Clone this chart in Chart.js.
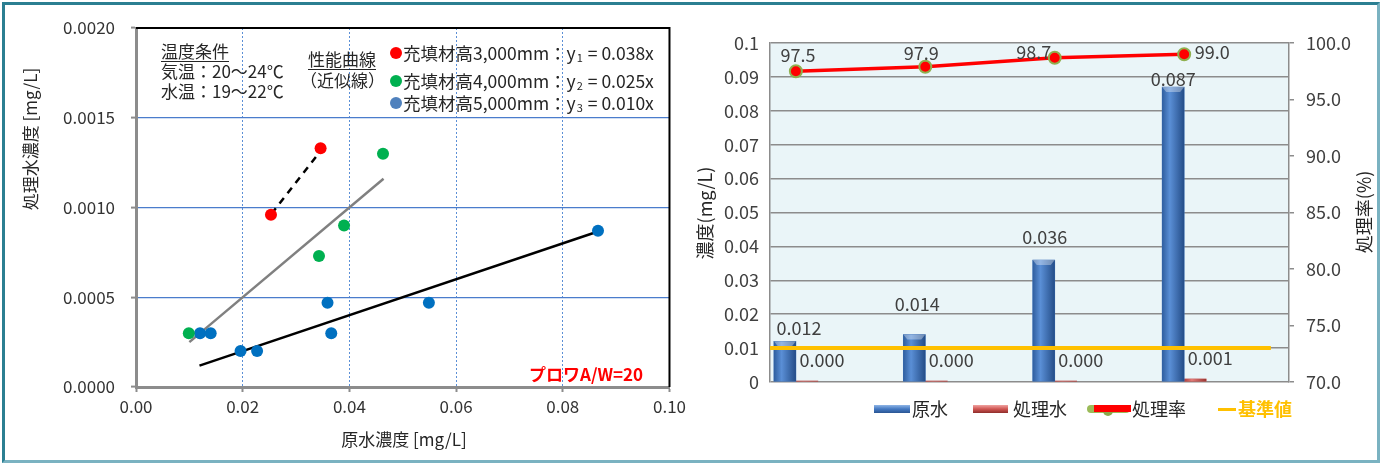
<!DOCTYPE html>
<html>
<head>
<meta charset="utf-8">
<script src="https://cdn.jsdelivr.net/npm/chart.js@4.4.0/dist/chart.umd.min.js"></script>
<style>
  html, body { margin: 0; padding: 0; background: #fff; width: 1380px; height: 463px; overflow: hidden; }
  .box { position: absolute; top: 0; height: 463px; width: 690px; }
  #left { left: 0; }
  #right { left: 690px; }
  #frame {
    position: absolute; left: 2px; top: 2px; width: 1372px; height: 455px;
    border-style: solid; border-width: 3px;
    border-color: #2b7f92 #7ab2c1 #7ab2c1 #2b7f92;
    pointer-events: none;
  }
</style>
</head>
<body>
<div id="left" class="box"><canvas id="c1"></canvas></div>
<div id="right" class="box"><canvas id="c2"></canvas></div>
<div id="frame"></div>
<script>
// ---- left chart: raw vs treated concentration ----
const seriesNames = ['充填材高3,000mm', '充填材高4,000mm', '充填材高5,000mm'];
const rawX3000 = [0.0253, 0.0346];
const treatedY3000 = [0.00096, 0.00133];
const rawX4000 = [0.0099, 0.0343, 0.0390, 0.0463];
const treatedY4000 = [0.00030, 0.00073, 0.00090, 0.00130];
const rawX5000 = [0.0120, 0.0140, 0.0196, 0.0227, 0.0359, 0.0366, 0.0549, 0.0866];
const treatedY5000 = [0.00030, 0.00030, 0.00020, 0.00020, 0.00047, 0.00030, 0.00047, 0.00087];
const fitSlopes = [0.038, 0.025, 0.010];
const fitRanges = [[0.0254, 0.0347], [0.0100, 0.0464], [0.0119, 0.0866]];
const xTicks = [0, 0.02, 0.04, 0.06, 0.08, 0.10];
const yTicks = [0, 0.0005, 0.0010, 0.0015, 0.0020];

// ---- right chart: concentration bars + removal rate ----
const sampleIndex = [0, 1, 2, 3];
const rawWater = [0.012, 0.014, 0.036, 0.087];
const treatedWater = [0.0003, 0.0003, 0.0003, 0.0009];
const removalRate = [97.5, 97.9, 98.7, 99.0];
const standardValue = 0.01;
const standardSpan = [-0.2, 3.67];
const concTicks = [0, 0.01, 0.02, 0.03, 0.04, 0.05, 0.06, 0.07, 0.08, 0.09, 0.1];
const rateTicks = [70, 75, 80, 85, 90, 95, 100];

const FONT = "'Noto Sans CJK JP', 'Noto Sans', sans-serif";
Chart.defaults.font.family = FONT;
Chart.defaults.color = '#404040';
Chart.defaults.animation = false;

const pts = (xs, ys) => xs.map((x, i) => ({ x, y: ys[i] }));
const fitLine = (k, range) => range.map(x => ({ x, y: k * x }));
const clear = 'rgba(0,0,0,0)';

// text with subscript, e.g. y1
function drawSub(ctx, x, y, main, sub, rest, size) {
  ctx.font = size + 'px ' + FONT;
  ctx.fillText(main, x, y);
  x += ctx.measureText(main).width;
  ctx.font = Math.round(size * 0.62) + 'px ' + FONT;
  ctx.fillText(sub, x + 1, y + 5);
  x += ctx.measureText(sub).width + 2;
  ctx.font = size + 'px ' + FONT;
  ctx.fillText(rest, x, y);
}

const leftDecor = {
  id: 'leftDecor',
  afterDraw(chart) {
    const { ctx, chartArea: a } = chart;
    ctx.save();
    // black top / right frame
    ctx.strokeStyle = '#000';
    ctx.lineWidth = 2;
    ctx.beginPath();
    ctx.moveTo(a.left, a.top);
    ctx.lineTo(a.right, a.top);
    ctx.lineTo(a.right, a.bottom);
    ctx.stroke();

    ctx.fillStyle = '#262626';
    ctx.textBaseline = 'middle';
    ctx.textAlign = 'left';
    ctx.font = '17px ' + FONT;
    const underline = (t, x, y) => {
      ctx.fillText(t, x, y);
      const w = ctx.measureText(t).width;
      ctx.fillRect(x, y + 9, w, 1);
    };
    underline('温度条件', 161, 52);
    ctx.fillText('気温：20～24℃', 161, 72);
    ctx.fillText('水温：19～22℃', 161, 92);
    underline('性能曲線', 308, 60);
    ctx.fillText('（近似線）', 300, 81);

    const dotColors = ['#FF0000', '#00B050', '#4F81BD'];
    const rowY = [53, 81, 103];
    seriesNames.forEach((name, i) => {
      ctx.fillStyle = dotColors[i];
      ctx.beginPath();
      ctx.arc(396, rowY[i], 6, 0, Math.PI * 2);
      ctx.fill();
      ctx.fillStyle = '#262626';
      drawSub(ctx, 403, rowY[i], name + '：y', String(i + 1), ' = ' + fitSlopes[i].toFixed(3) + 'x', 17.5);
    });

    ctx.fillStyle = '#FF0000';
    ctx.font = 'bold 17px ' + FONT;
    ctx.fillText('プロワA/W=20', 529, 375);

    // axis titles
    ctx.fillStyle = '#262626';
    ctx.font = '17px ' + FONT;
    ctx.textAlign = 'center';
    ctx.fillText('原水濃度 [mg/L]', 404, 440);
    ctx.translate(31, 139);
    ctx.rotate(-Math.PI / 2);
    ctx.fillText('処理水濃度 [mg/L]', 0, 0);
    ctx.restore();
  }
};

const pointSet = (label, data, color) => ({
  label, data, showLine: false, order: 0,
  pointRadius: 6, pointHoverRadius: 6, pointBorderWidth: 0,
  pointBackgroundColor: color, backgroundColor: color
});
const lineSet = (data, color, dash) => ({
  data, showLine: true, order: 1, pointRadius: 0,
  borderColor: color, borderWidth: 2.5, borderDash: dash
});

new Chart(document.getElementById('c1'), {
  type: 'scatter',
  data: {
    datasets: [
      pointSet(seriesNames[0], pts(rawX3000, treatedY3000), '#FF0000'),
      pointSet(seriesNames[1], pts(rawX4000, treatedY4000), '#00B050'),
      pointSet(seriesNames[2], pts(rawX5000, treatedY5000), '#0070C0'),
      lineSet(fitLine(fitSlopes[0], fitRanges[0]), '#000000', [7, 6]),
      lineSet(fitLine(fitSlopes[1], fitRanges[1]), '#808080', []),
      lineSet(fitLine(fitSlopes[2], fitRanges[2]), '#000000', [])
    ]
  },
  options: {
    responsive: true,
    maintainAspectRatio: false,
    layout: { padding: { top: 28, right: 16, left: 0, bottom: 0 } },
    plugins: { legend: { display: false }, tooltip: { enabled: false } },
    scales: {
      x: {
        type: 'linear', min: 0, max: 0.1,
        afterBuildTicks: s => { s.ticks = xTicks.map(v => ({ value: v })); },
        afterFit: s => { s.height = 76; },
        ticks: { callback: v => v.toFixed(2), font: { size: 17 }, color: '#333', padding: 4, maxRotation: 0 },
        grid: {
          color: c => (c.tick && (c.tick.value === 0 || c.tick.value >= 0.1)) ? clear : '#5b8fd6',
          lineWidth: 1, tickColor: '#8c8c8c', tickLength: 5, tickWidth: 2
        },
        border: { color: '#8c8c8c', width: 3, dash: [2, 2] }
      },
      y: {
        type: 'linear', min: 0, max: 0.002,
        afterBuildTicks: s => { s.ticks = yTicks.map(v => ({ value: v })); },
        afterFit: s => { s.width = 136; },
        ticks: { callback: v => v.toFixed(4), font: { size: 17 }, color: '#333', padding: 16 },
        grid: {
          color: c => (c.tick && (c.tick.value === 0 || c.tick.value >= 0.002)) ? clear : '#4a7ccc',
          lineWidth: 1.2, tickColor: '#8c8c8c', tickLength: 5, tickWidth: 2
        },
        border: { color: '#8c8c8c', width: 3 }
      }
    }
  },
  plugins: [leftDecor]
});

// ---- right chart ----
const BAR_W = 22;
const rawLabelOffset = [[14, -13], [3, -30], [1, -23], [0, -8]];
const rateLabelOffset = [[2, -16], [-4, -14], [-21, -6], [28, -2]];
const barShade = [
  ['#2f5e9f', '#5a8fd6', '#244d88'],
  ['#b0403d', '#e27a77', '#9a3532']
];

const rightDecor = {
  id: 'rightDecor',
  beforeDraw(chart) {
    const { ctx, chartArea: a } = chart;
    ctx.save();
    ctx.fillStyle = '#eaf5f8';
    ctx.fillRect(a.left, a.top, a.right - a.left, a.bottom - a.top);
    ctx.restore();
  },
  // give the library's bars a rounded, shaded look
  afterDatasetDraw(chart, args) {
    if (args.index > 1) return;
    const ctx = chart.ctx;
    const stops = barShade[args.index];
    ctx.save();
    args.meta.data.forEach(el => {
      const { x, y, base, width } = el.getProps(['x', 'y', 'base', 'width'], true);
      const l = x - width / 2;
      const g = ctx.createLinearGradient(l, 0, l + width, 0);
      g.addColorStop(0, stops[0]);
      g.addColorStop(0.35, stops[1]);
      g.addColorStop(1, stops[2]);
      ctx.fillStyle = g;
      ctx.fillRect(l, y, width, base - y);
      if (base - y > 8) {
        ctx.fillStyle = 'rgba(255,255,255,0.35)';
        ctx.beginPath();
        ctx.moveTo(l, y); ctx.lineTo(l + width, y);
        ctx.lineTo(l + width - 4, y + 5); ctx.lineTo(l + 4, y + 5);
        ctx.closePath();
        ctx.fill();
      }
    });
    ctx.restore();
  },
  afterDatasetsDraw(chart) {
    const ctx = chart.ctx;
    ctx.save();
    ctx.font = '18px ' + FONT;
    ctx.fillStyle = '#404040';
    ctx.textAlign = 'center';
    ctx.textBaseline = 'middle';
    chart.getDatasetMeta(0).data.forEach((el, i) => {
      ctx.fillText(rawWater[i].toFixed(3), el.x + rawLabelOffset[i][0], el.y + rawLabelOffset[i][1]);
    });
    chart.getDatasetMeta(1).data.forEach((el, i) => {
      ctx.fillText(treatedWater[i].toFixed(3), el.x + 15, el.y - 21);
    });
    chart.getDatasetMeta(2).data.forEach((el, i) => {
      ctx.fillText(removalRate[i].toFixed(1), el.x + rateLabelOffset[i][0], el.y + rateLabelOffset[i][1]);
    });
    ctx.restore();
  },
  afterDraw(chart) {
    const ctx = chart.ctx;
    ctx.save();
    ctx.fillStyle = '#262626';
    ctx.font = '18px ' + FONT;
    ctx.textAlign = 'center';
    ctx.textBaseline = 'middle';
    ctx.save();
    ctx.translate(15, 213);
    ctx.rotate(-Math.PI / 2);
    ctx.fillText('濃度(mg/L)', 0, 0);
    ctx.restore();
    ctx.save();
    ctx.translate(674, 212);
    ctx.rotate(-Math.PI / 2);
    ctx.fillText('処理率(%)', 0, 0);
    ctx.restore();

    // legend
    const ly = 409;
    ctx.textAlign = 'left';
    let g = ctx.createLinearGradient(0, ly - 4, 0, ly + 4);
    g.addColorStop(0, '#8fb5e6'); g.addColorStop(0.5, '#4479c2'); g.addColorStop(1, '#2a5593');
    ctx.fillStyle = g;
    ctx.fillRect(184, ly - 4, 36, 8);
    g = ctx.createLinearGradient(0, ly - 4, 0, ly + 4);
    g.addColorStop(0, '#f0a3a1'); g.addColorStop(0.5, '#d05653'); g.addColorStop(1, '#8e2d2b');
    ctx.fillStyle = g;
    ctx.fillRect(283, ly - 4, 35, 8);

    ctx.strokeStyle = '#9bbb59';
    ctx.lineCap = 'round';
    ctx.lineWidth = 8;
    ctx.beginPath(); ctx.moveTo(401, ly); ctx.lineTo(436, ly); ctx.stroke();
    ctx.fillStyle = '#8aa84a';
    ctx.beginPath(); ctx.arc(418, ly + 2, 5, 0, Math.PI * 2); ctx.fill();
    ctx.fillStyle = '#FF0000';
    ctx.fillRect(404, ly - 4, 37, 7);

    ctx.fillStyle = '#262626';
    ctx.fillText('原水', 222, ly);
    ctx.fillText('処理水', 323, ly);
    ctx.fillText('処理率', 442, ly);

    ctx.fillStyle = '#FFC000';
    ctx.fillRect(528, ly - 1, 18, 3);
    ctx.font = 'bold 18px ' + FONT;
    ctx.fillText('基準値', 548, ly);
    ctx.restore();
  }
};

new Chart(document.getElementById('c2'), {
  type: 'bar',
  data: {
    datasets: [
      {
        label: '原水', data: pts(sampleIndex, rawWater), yAxisID: 'y', order: 2,
        backgroundColor: '#3d71b8', borderWidth: 0, barThickness: BAR_W
      },
      {
        label: '処理水', data: pts(sampleIndex, treatedWater), yAxisID: 'y', order: 3,
        backgroundColor: '#c0504d', borderWidth: 0, barThickness: BAR_W
      },
      {
        type: 'line', label: '処理率', data: pts(sampleIndex, removalRate), yAxisID: 'y1', order: 0,
        borderColor: '#FF0000', borderWidth: 3.5, pointRadius: 6, pointHoverRadius: 6,
        pointBackgroundColor: '#FF0000', pointBorderColor: '#8fb04f', pointBorderWidth: 2
      },
      {
        type: 'line', label: '基準値', data: standardSpan.map(x => ({ x, y: standardValue })), yAxisID: 'y', order: 1,
        borderColor: '#FFC000', borderWidth: 4, pointRadius: 0
      }
    ]
  },
  options: {
    responsive: true,
    maintainAspectRatio: false,
    layout: { padding: { top: 43, bottom: 81, left: 0, right: 0 } },
    plugins: { legend: { display: false }, tooltip: { enabled: false } },
    scales: {
      x: { type: 'linear', min: -0.2, max: 3.81, offset: false, display: false, grid: { offset: false } },
      y: {
        type: 'linear', position: 'left', min: 0, max: 0.1,
        afterBuildTicks: s => { s.ticks = concTicks.map(v => ({ value: v })); },
        afterFit: s => { s.width = 80; },
        ticks: { callback: v => String(+v.toFixed(2)), font: { size: 18 }, color: '#404040', padding: 11 },
        grid: { color: '#8c8c8c', lineWidth: 1.5, drawTicks: false },
        border: { color: '#8c8c8c', width: 1.5 }
      },
      y1: {
        type: 'linear', position: 'right', min: 70, max: 100,
        afterBuildTicks: s => { s.ticks = rateTicks.map(v => ({ value: v })); },
        afterFit: s => { s.width = 91; },
        ticks: { callback: v => v.toFixed(1), font: { size: 18 }, color: '#404040', padding: 12 },
        grid: { drawOnChartArea: false, tickColor: '#8c8c8c', tickLength: 5, lineWidth: 1.5 },
        border: { color: '#8c8c8c', width: 1.5 }
      }
    }
  },
  plugins: [rightDecor]
});
</script>
</body>
</html>
